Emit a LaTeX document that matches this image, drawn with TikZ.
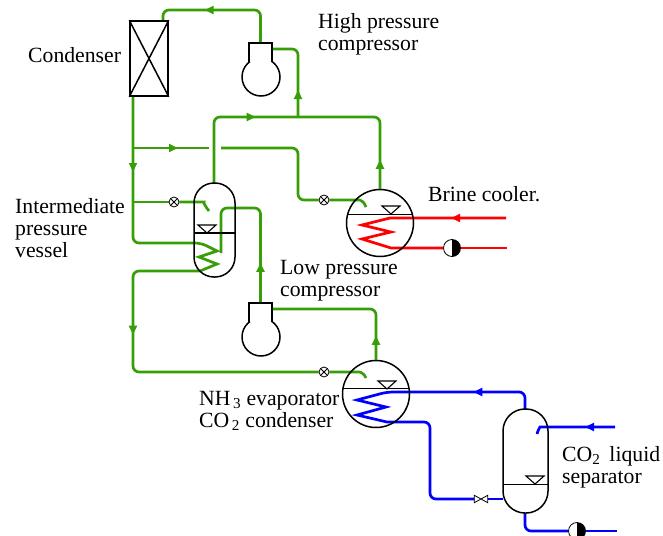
\documentclass[tikz,border=0pt]{standalone}
\usepackage{fontspec}
\setmainfont{Liberation Serif}
\usetikzlibrary{positioning, arrows.meta, backgrounds, decorations.markings}
\definecolor{pipegreen}{RGB}{56,158,8}
\tikzset{
  equip/.style={draw=black, line width=1.5pt},
  vessel/.style={equip, rectangle, rounded corners=20pt, inner sep=0pt},
  drum/.style={equip, circle, inner sep=0pt},
  neck/.style={rectangle, fill=white, inner sep=0pt, minimum width=23pt, minimum height=19pt},
  xvalve/.style={draw=black, line width=0.8pt, circle, fill=white, inner sep=0pt, minimum size=10pt,
    path picture={
      \draw (path picture bounding box.north west) -- (path picture bounding box.south east);
      \draw (path picture bounding box.north east) -- (path picture bounding box.south west);}},
  pumpsym/.style={draw=black, line width=0.8pt, circle, fill=white, inner sep=0pt, minimum size=17pt,
    path picture={
      \fill[black] (path picture bounding box.north) rectangle (path picture bounding box.south east);}},
  gpipe/.style={draw=pipegreen, line width=2.7pt, rounded corners=6pt},
  rpipe/.style={draw=red, line width=2.7pt},
  bpipe/.style={draw=blue, line width=2.7pt, rounded corners=6pt},
  flow/.style={postaction={decorate}, decoration={markings,
    mark=at position #1 with {\arrow{Triangle[length=9pt, width=8pt]}}}},
  lab/.style={anchor=west, align=left, inner sep=0pt, font=\fontsize{21.7}{22}\selectfont},
}
\begin{document}
\begin{tikzpicture}[x=1pt, y=-1pt]
  \useasboundingbox (0,0) rectangle (663,535);
  % condenser
  \node[equip, rectangle, inner sep=0pt, minimum width=38pt, minimum height=75pt] (cond) at (149,58.5) {};
  \draw[equip] (cond.north west) -- (cond.south east) (cond.north east) -- (cond.south west);
  % compressors
  \node[drum, minimum size=38pt] (hpbody) at (261,77) {};
  \node[neck] (hpneck) at (260.5,52.5) {};
  \draw[equip] (hpneck.south west) -- (hpneck.north west) -- (hpneck.north east) -- (hpneck.south east);
  \node[drum, minimum size=38pt] (lpbody) at (261,337) {};
  \node[neck] (lpneck) at (260.5,312.5) {};
  \draw[equip] (lpneck.south west) -- (lpneck.north west) -- (lpneck.north east) -- (lpneck.south east);
  % vessels
  \node[vessel, minimum width=41pt, minimum height=94pt] (ipvessel) at (214.5,230) {};
  \node[vessel, rounded corners=22pt, minimum width=45pt, minimum height=104pt] (sep) at (525.5,461) {};
  \node[drum, minimum size=67pt] (brine) at (380,223) {};
  \node[drum, minimum size=67pt] (evap) at (376,394) {};
  % liquid levels
  \draw[equip, line width=1.8pt] (194,233) -- (235,233);
  \draw[equip, line width=1pt] (347,214) -- (413,214);
  \draw[equip, line width=1pt] (343,388) -- (409,388);
  \draw[equip, line width=1pt] (503,484) -- (548,484);
  \foreach \x/\y in {207/225, 391/206, 387/381, 535/476}
    \draw[equip, line width=1.1pt] (\x-9,\y) -- (\x+9,\y) -- (\x,\y+8) -- cycle;
  % valves and pumps
  \node[xvalve] (valvei) at (174,202) {};
  \node[xvalve] (valveb) at (324,200) {};
  \node[xvalve] (valvee) at (324,372) {};
  \node[rectangle, fill=white, inner sep=0pt, minimum width=13pt, minimum height=7pt] (valvec) at (481,499) {};
  \draw[line width=0.8pt] (valvec.north west) -- (valvec.south east) -- (valvec.north east) -- (valvec.south west) -- cycle;
  \node[pumpsym] (pumpb) at (452,248) {};
  \node[pumpsym] (pumpc) at (577,531) {};
  % named pipe ends
  \coordinate (condout) at (163,21);
  \coordinate (condin) at (133,96);
  \coordinate (hpport) at (272,49);
  \coordinate (lpport) at (272,309);
  \coordinate (jhp) at (298,117);
  \coordinate (ipout) at (214,183);
  \coordinate (jliqa) at (133,148);
  \coordinate (jliqb) at (133,202);
  \coordinate (gapa) at (209,148);
  \coordinate (gapb) at (221,148);
  \coordinate (coilout) at (200,271);
  \coordinate (ipcoil) at (221,253);
  \coordinate (ipspray) at (209,211);
  \coordinate (brspray) at (366,207);
  \coordinate (evspray) at (366,378);
  \coordinate (sepout) at (525,409);
  \coordinate (sepfeed) at (503,499);
  \coordinate (sepin) at (615,427);
  \coordinate (sepspray) at (537,434);
  \coordinate (sepdown) at (525,513);
  \coordinate (co2out) at (617,531);
  \coordinate (brinein) at (506,218);
  \coordinate (brineout) at (507,248);
  \begin{scope}[on background layer]
    % high pressure side
    \draw[gpipe, flow=86pt] (hpneck.north) -- (260.5,10) -- (163,10) -- (condout);
    \draw[gpipe, flow=27pt] (jhp) -- (298,49) -- (hpport);
    \draw[gpipe, flow=105pt] (ipout) -- (214,117) -- (jhp);
    \draw[gpipe, flow=29pt] (brine.north) -- (380,117) -- (jhp);
    % liquid lines
    \draw[gpipe, flow=76pt] (condin) -- (133,243) -- (201,243) [sharp corners] -- (217,251) -- (199,257) -- (217,264) -- (coilout);
    \draw[gpipe, flow=128pt] (coilout) -- (133,271) -- (133,372) -- (valvee);
    \draw[gpipe] (valvee) -- (353,372) .. controls (360,372) and (364,373) .. (evspray);
    \draw[gpipe, flow=45pt] (jliqa) -- (gapa);
    \draw[gpipe] (gapb) -- (298,148) -- (298,200) -- (valveb);
    \draw[gpipe] (valveb) -- (353,200) .. controls (360,200) and (364,201) .. (brspray);
    \draw[gpipe] (jliqb) -- (valvei);
    \draw[gpipe] (valvei) -- (198,202) .. controls (203,202) and (205,206) .. (ipspray);
    \draw[gpipe, flow=40pt] (lpneck.north) -- (260.5,208) -- (221,208) -- (ipcoil);
    \draw[gpipe, flow=24pt] (evap.north) -- (376,309) -- (lpport);
    % CO2 loop
    \draw[bpipe, flow=66pt] (sepout) -- (525,392) -- (387,392) [sharp corners] -- (357,400) -- (386,407) -- (357,415) -- (387,422) [rounded corners=6pt] -- (430,422) -- (430,499) -- (valvec);
    \draw[bpipe] (valvec) -- (sepfeed);
    \draw[bpipe, flow=30pt] (sepin) -- (546,427) .. controls (540,427) and (538,430) .. (sepspray);
    \draw[bpipe] (sepdown) -- (525,531) -- (pumpc);
    \draw[bpipe] (pumpc) -- (co2out);
    % brine
    \draw[rpipe, flow=55pt] (brinein) -- (390,218) -- (362,225) -- (391,232) -- (362,239) -- (391,248) -- (pumpb);
    \draw[rpipe] (pumpb) -- (brineout);
  \end{scope}
  % labels
  \node[lab] (lcond) at (28,55) {Condenser};
  \node[lab] (lhp) at (318,34.5) {High pressure\\compressor};
  \node[lab] (lip) at (15,228) {Intermediate\\pressure\\vessel};
  \node[lab] (lbrine) at (428,194) {Brine cooler.};
  \node[lab] (llp) at (280,281) {Low pressure\\compressor};
  \node[lab] (levap) at (199,411) {NH\textsubscript{\,3} evaporator\\CO\textsubscript{\,2} condenser};
  \node[lab] (lsep) at (562,467.5) {CO\textsubscript{2} \,liquid\\separator};
\end{tikzpicture}
\end{document}
